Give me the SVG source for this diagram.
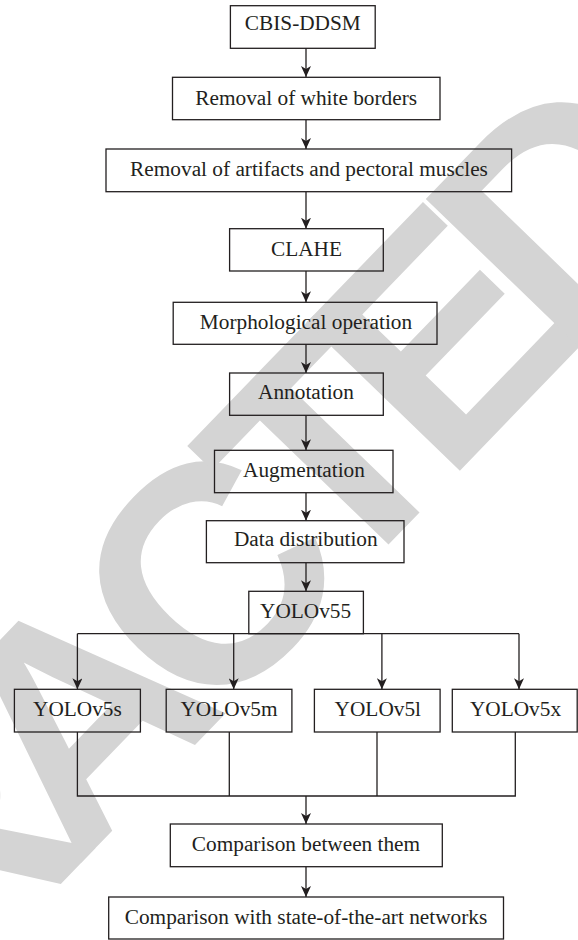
<svg xmlns="http://www.w3.org/2000/svg" width="578" height="940" viewBox="0 0 578 940">
<style>
.bg{fill:#ffffff}
.wm{font-family:"Liberation Sans",Arial,sans-serif;font-weight:bold;font-size:310px;letter-spacing:-35px;fill:#d4d4d4}
.box{fill:none;stroke:#231f20;stroke-width:1.3}
.lbl{font-family:"Liberation Serif","Times New Roman",serif;font-size:21.3px;fill:#231f20;text-anchor:middle}
.conn{fill:none;stroke:#231f20;stroke-width:1.3}
</style>
<defs>
<marker id="ah" markerUnits="userSpaceOnUse" markerWidth="12" markerHeight="10" refX="11" refY="5" orient="auto">
<path d="M0,0 L11,5 L0,10 L3,5 Z" fill="#231f20"/>
</marker>
</defs>
<rect class="bg" x="0" y="0" width="578" height="940"/>
<text class="wm" x="-413.1" y="1374.7" transform="rotate(-46 -413.1 1374.7)">RETRACTED</text>
<g id="connectors">
<line class="conn" x1="306" y1="48" x2="306" y2="77" marker-end="url(#ah)"/>
<line class="conn" x1="306" y1="120" x2="306" y2="149" marker-end="url(#ah)"/>
<line class="conn" x1="306" y1="192" x2="306" y2="228.7" marker-end="url(#ah)"/>
<line class="conn" x1="306" y1="271" x2="306" y2="302.3" marker-end="url(#ah)"/>
<line class="conn" x1="306" y1="344.3" x2="306" y2="373" marker-end="url(#ah)"/>
<line class="conn" x1="306" y1="415.3" x2="306" y2="450.3" marker-end="url(#ah)"/>
<line class="conn" x1="306" y1="492.7" x2="306" y2="520.7" marker-end="url(#ah)"/>
<line class="conn" x1="306" y1="562.7" x2="306" y2="591.3" marker-end="url(#ah)"/>
<line class="conn" x1="77.4" y1="633.7" x2="519" y2="633.7"/>
<line class="conn" x1="77.4" y1="633.7" x2="77.4" y2="689.3" marker-end="url(#ah)"/>
<line class="conn" x1="233.7" y1="633.7" x2="233.7" y2="689.3" marker-end="url(#ah)"/>
<line class="conn" x1="381.9" y1="633.7" x2="381.9" y2="689.3" marker-end="url(#ah)"/>
<line class="conn" x1="519" y1="633.7" x2="519" y2="689.3" marker-end="url(#ah)"/>
<polyline class="conn" points="77.4,732 77.4,796 515.3,796 515.3,732"/>
<line class="conn" x1="229.3" y1="732" x2="229.3" y2="796"/>
<line class="conn" x1="377" y1="732" x2="377" y2="796"/>
<line class="conn" x1="306" y1="796" x2="306" y2="824" marker-end="url(#ah)"/>
<line class="conn" x1="306" y1="866.7" x2="306" y2="897" marker-end="url(#ah)"/>
</g>
<g id="n-cbis"><rect class="box" x="230.4" y="5.7" width="144.8" height="42.6"/><text class="lbl" x="302.8" y="30">CBIS-DDSM</text></g>
<g id="n-white"><rect class="box" x="172.5" y="77.3" width="267.5" height="42.4"/><text class="lbl" x="306.2" y="104.5">Removal of white borders</text></g>
<g id="n-artifacts"><rect class="box" x="106" y="149" width="405.6" height="42.7"/><text class="lbl" x="309" y="175.8">Removal of artifacts and pectoral muscles</text></g>
<g id="n-clahe"><rect class="box" x="229.6" y="228.7" width="153.7" height="42.3"/><text class="lbl" x="306.5" y="255.7">CLAHE</text></g>
<g id="n-morph"><rect class="box" x="173.2" y="302.3" width="263.8" height="42"/><text class="lbl" x="306" y="328.5">Morphological operation</text></g>
<g id="n-annot"><rect class="box" x="229.6" y="373" width="153.7" height="42.3"/><text class="lbl" x="306" y="399">Annotation</text></g>
<g id="n-aug"><rect class="box" x="214.5" y="450.3" width="178.5" height="42.4"/><text class="lbl" x="304" y="477.3">Augmentation</text></g>
<g id="n-data"><rect class="box" x="206.4" y="520.7" width="197.6" height="42"/><text class="lbl" x="305.8" y="546">Data distribution</text></g>
<g id="n-yolo55"><rect class="box" x="248.8" y="591.3" width="114.6" height="42.4"/><text class="lbl" x="305.6" y="617.7">YOLOv55</text></g>
<g id="n-v5s"><rect class="box" x="14.4" y="689.3" width="126" height="42.7"/><text class="lbl" x="77.4" y="716">YOLOv5s</text></g>
<g id="n-v5m"><rect class="box" x="166.2" y="689.3" width="125.7" height="42.7"/><text class="lbl" x="229" y="716">YOLOv5m</text></g>
<g id="n-v5l"><rect class="box" x="314.4" y="689.3" width="125.7" height="42.7"/><text class="lbl" x="377.8" y="716">YOLOv5l</text></g>
<g id="n-v5x"><rect class="box" x="452.3" y="689.3" width="124.9" height="42.7"/><text class="lbl" x="515.5" y="716">YOLOv5x</text></g>
<g id="n-cmp1"><rect class="box" x="170.3" y="824" width="272" height="42.7"/><text class="lbl" x="306" y="851">Comparison between them</text></g>
<g id="n-cmp2"><rect class="box" x="108.7" y="897" width="394.8" height="42"/><text class="lbl" x="306" y="924">Comparison with state-of-the-art networks</text></g>
</svg>
